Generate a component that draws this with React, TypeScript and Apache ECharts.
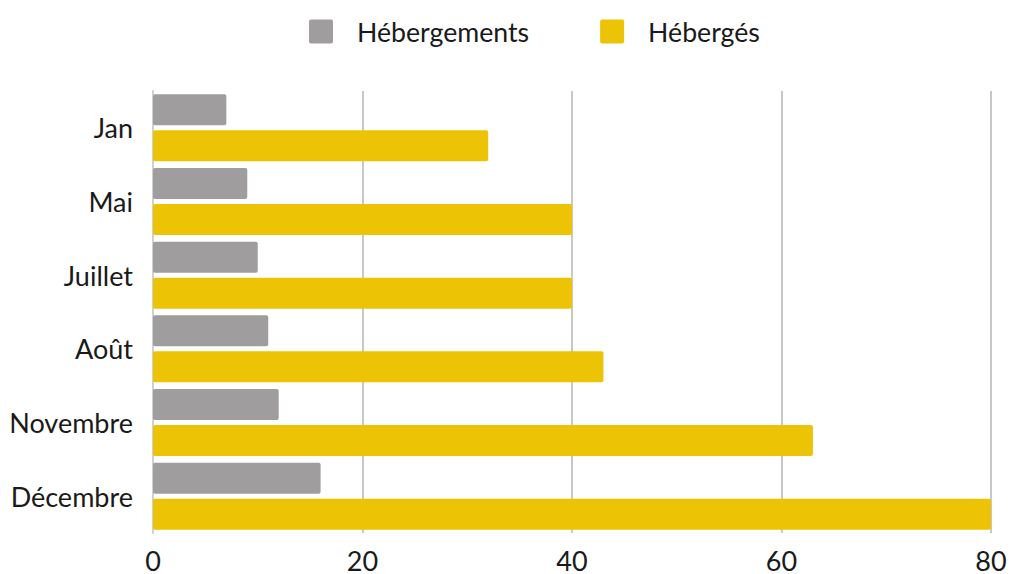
import React, { useEffect, useRef } from "react";
import * as echarts from "echarts";

const months = ["Jan", "Mai", "Juillet", "Août", "Novembre", "Décembre"];
const hebergements = [7, 9, 10, 11, 12, 16];
const heberges = [32, 40, 40, 43, 63, 80];
const xTicks = { min: 0, max: 80, interval: 20 };

export default function App() {
  const ref = useRef<HTMLDivElement>(null);
  useEffect(() => {
    if (!ref.current) return;
    const chart = echarts.init(ref.current, null, { renderer: "svg" });
    const font = "Lato, 'Noto Sans', sans-serif";
    chart.setOption({
      animation: false,
      textStyle: { fontFamily: font },
      legend: {
        top: 13,
        left: 304,
        itemWidth: 24,
        itemHeight: 24,
        itemGap: 71,
        icon: "path://M2,0 L22,0 Q24,0 24,2 L24,22 Q24,24 22,24 L2,24 Q0,24 0,22 L0,2 Q0,0 2,0 Z",
        textStyle: { fontSize: 26.7, color: "#1a1a1a", fontFamily: font, padding: [0, 0, 0, 19] },
        data: ["Hébergements", "Hébergés"],
      },
      grid: { left: 153, right: 19, top: 91, bottom: 37, containLabel: false },
      xAxis: {
        type: "value",
        min: xTicks.min,
        max: xTicks.max,
        interval: xTicks.interval,
        axisLine: { show: false },
        axisTick: { show: false },
        axisLabel: { fontSize: 27, color: "#1a1a1a", margin: 14, fontFamily: font },
        splitLine: { lineStyle: { color: "#c8c8c8", width: 2 } },
      },
      yAxis: {
        type: "category",
        data: months,
        inverse: true,
        axisLine: { show: true, lineStyle: { color: "#d0d0d0", width: 2 } },
        axisTick: { show: false },
        axisLabel: { fontSize: 27, color: "#1a1a1a", margin: 20, fontFamily: font, padding: [4, 0, 0, 0] },
      },
      series: [
        {
          name: "Hébergements",
          type: "bar",
          data: hebergements,
          barWidth: 31,
          barGap: "16%",
          itemStyle: { color: "#9f9d9d", borderRadius: 2 },
        },
        {
          name: "Hébergés",
          type: "bar",
          data: heberges,
          barWidth: 31,
          barGap: "16%",
          itemStyle: { color: "#ecc305", borderRadius: 2 },
        },
      ],
    });
    return () => chart.dispose();
  }, []);
  return <div ref={ref} style={{ width: 1010, height: 574, position: "absolute", left: 0, top: 0 }} />;
}
